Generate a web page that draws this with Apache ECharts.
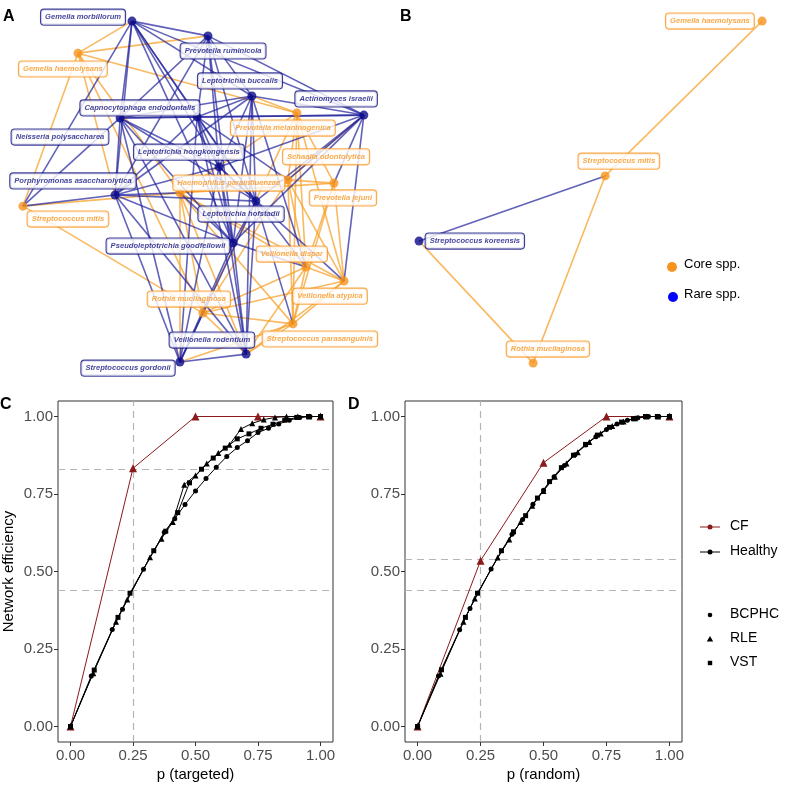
<!DOCTYPE html>
<html><head><meta charset="utf-8">
<script src="https://cdn.jsdelivr.net/npm/echarts@6/dist/echarts.min.js"></script>
<style>html,body{margin:0;padding:0;background:#fff}#c{width:787px;height:790px}</style>
</head><body><div id="c"></div><script>
// ---------- Panel A: network (layout coordinates 0-100) ----------
const netA_names = ["Gemella morbillorum","Prevotella ruminicola","Gemella haemolysans","Leptotrichia buccalis","Actinomyces israelii","Neisseria polysaccharea","Capnocytophaga endodontalis","Prevotella melaninogenica","Leptotrichia hongkongensis","Schaalia odontolytica","Prevotella jejuni","Porphyromonas asaccharolytica","Haemophilus parainfluenzae","Streptococcus mitis","Leptotrichia hofstadii","Pseudoleptotrichia goodfellowii","Veillonella dispar","Veillonella atypica","Rothia mucilaginosa","Streptococcus parasanguinis","Veillonella rodentium","Streptococcus gordonii"];
const netA_type = ["rare","rare","core","rare","rare","rare","rare","core","rare","core","core","rare","core","core","rare","rare","core","core","core","core","rare","rare"];
const netA_x = [32.5,53.6,17.5,65.8,96.9,29.2,50.6,78.3,56.7,75.8,88.6,27.8,45.8,2.2,66.9,60.6,80.8,91.4,52.2,77.2,64.2,45.8];
const netA_y = [1.7,5.8,10.6,22.5,27.8,28.6,28.3,27.2,42.2,45.8,46.7,50.0,49.4,53.1,51.7,63.3,70.0,73.9,82.8,85.8,94.2,96.4];
const netA_labelX = [18.9,57.8,13.3,62.5,89.2,12.5,34.7,74.4,48.3,86.4,91.1,16.1,59.4,14.7,62.8,42.5,76.9,87.5,48.3,84.7,54.7,31.4];
const netA_labelY = [0.6,10.0,15.0,18.3,23.3,33.9,25.8,31.4,38.1,39.4,50.8,46.1,46.7,56.7,55.3,64.2,66.4,78.1,78.9,90.0,90.3,98.1];
const netA_edgesBlue = [[0,1],[0,3],[0,4],[0,5],[0,6],[0,8],[0,11],[0,14],[0,15],[0,13],
 [1,3],[1,4],[1,5],[1,6],[1,8],[1,14],[1,15],[1,11],
 [3,4],[3,5],[3,6],[3,8],[3,11],[3,14],[3,15],[3,20],[3,16],
 [4,6],[4,8],[4,14],[4,15],[4,5],[4,17],[4,10],[4,9],
 [5,6],[5,8],[5,11],[5,14],[5,15],[5,20],[5,21],[5,13],
 [6,8],[6,11],[6,14],[6,15],[6,20],[6,21],[6,9],
 [8,11],[8,14],[8,15],[8,20],[8,21],[8,17],
 [11,14],[11,15],[11,20],[11,21],[11,13],[11,12],
 [14,15],[14,20],[14,21],[14,16],[14,19],
 [15,20],[15,21],[15,16],[15,12],[20,21],[21,18]];
const netA_edgesOrange = [[2,0],[2,1],[2,13],[2,7],[2,12],[2,11],[2,18],
 [7,9],[7,10],[7,12],[7,16],[7,17],[7,19],[7,18],
 [9,10],[9,12],[9,16],[9,17],[9,18],[9,19],
 [10,16],[10,17],[10,19],[10,12],
 [12,16],[12,17],[12,18],[12,19],[12,13],[12,21],[12,20],
 [16,17],[16,18],[16,19],[16,20],
 [17,18],[17,19],[17,20],
 [18,19],[18,20],[13,18],[19,20],[19,21],[9,4],[7,3]];

// ---------- Panel B: network ----------
const netB_names = ["Gemella haemolysans","Streptococcus mitis","Streptococcus koreensis","Rothia mucilaginosa"];
const netB_type = ["core","core","rare","core"];
const netB_x = [99.2,55.6,3.9,35.6];
const netB_y = [1.7,44.7,62.8,96.7];
const netB_labelX = [84.7,59.4,19.4,39.7];
const netB_labelY = [1.7,40.6,62.8,92.8];
const netB_edgesBlue = [[1,2]];
const netB_edgesOrange = [[0,1],[2,3],[1,3]];

// ---------- Panel C: targeted ----------
const pC_CF_x = [0,0.25,0.5,0.75,1];
const pC_CF_y = [0,0.833,1,1,1];
const pC_BCPHC_x = [0,0.083,0.167,0.208,0.292,0.375,0.417,0.458,0.5,0.542,0.583,0.625,0.667,0.708,0.75,0.792,0.833,0.875,0.917,0.958,1];
const pC_BCPHC_y = [0,0.163,0.313,0.378,0.507,0.627,0.67,0.716,0.76,0.80,0.836,0.871,0.90,0.922,0.948,0.962,0.976,0.988,0.997,1,1];
const pC_RLE_x = [0,0.091,0.182,0.227,0.318,0.364,0.409,0.455,0.5,0.545,0.591,0.636,0.682,0.727,0.773,0.818,0.864,0.909,0.955,1];
const pC_RLE_y = [0,0.172,0.338,0.41,0.546,0.606,0.66,0.78,0.81,0.848,0.882,0.909,0.96,0.978,0.99,0.997,1,1,1,1];
const pC_VST_x = [0,0.095,0.19,0.238,0.333,0.381,0.429,0.476,0.524,0.571,0.619,0.667,0.714,0.762,0.81,0.857,0.905,0.952,1];
const pC_VST_y = [0,0.182,0.352,0.43,0.567,0.63,0.69,0.786,0.83,0.866,0.898,0.928,0.944,0.962,0.975,0.988,0.997,1,1];
const refC_v = [0.25];
const refC_h = [0.835,0.44];

// ---------- Panel D: random ----------
const pD_CF_x = [0,0.25,0.5,0.75,1];
const pD_CF_y = [0,0.535,0.851,1,1];
const pD_BCPHC_x = [0,0.083,0.167,0.208,0.292,0.375,0.417,0.458,0.5,0.542,0.583,0.625,0.667,0.708,0.75,0.792,0.833,0.875,0.917,0.958,1];
const pD_BCPHC_y = [0,0.163,0.312,0.381,0.508,0.62,0.668,0.717,0.762,0.806,0.842,0.877,0.908,0.935,0.958,0.976,0.988,0.996,1,1,1];
const pD_RLE_x = [0,0.091,0.182,0.227,0.318,0.364,0.409,0.455,0.5,0.545,0.591,0.636,0.682,0.727,0.773,0.818,0.864,0.909,0.955,1];
const pD_RLE_y = [0,0.17,0.338,0.413,0.545,0.603,0.66,0.712,0.76,0.806,0.848,0.885,0.918,0.945,0.969,0.984,0.994,1,1,1];
const pD_VST_x = [0,0.095,0.19,0.238,0.333,0.381,0.429,0.476,0.524,0.571,0.619,0.667,0.714,0.762,0.81,0.857,0.905,0.952,1];
const pD_VST_y = [0,0.183,0.352,0.43,0.567,0.628,0.68,0.737,0.79,0.835,0.875,0.91,0.94,0.965,0.982,0.993,1,1,1];
const refD_v = [0.25];
const refD_h = [0.54,0.44];

const tickValues = [0,0.25,0.5,0.75,1];

// ---------- styles ----------
const ORANGE = '#F7941D', NAVY = '#0A0A8A', NAVY_TXT = '#101080';
const EDGE_BLUE = 'rgba(38,38,158,0.72)', EDGE_ORANGE = 'rgba(247,158,36,0.72)';
const CF_RED = '#8B1A1A';
const FONT = 'Liberation Sans, Arial, Helvetica, sans-serif';

function netSeries(idx, names, type, xs, ys, lx, ly, eb, eo) {
  const mk = (edges, col) => edges.map(e => ({coords: [[xs[e[0]], ys[e[0]]], [xs[e[1]], ys[e[1]]]], lineStyle: {color: col}}));
  return [
    {type: 'lines', coordinateSystem: 'cartesian2d', xAxisIndex: idx, yAxisIndex: idx, z: 1,
     data: mk(eo, EDGE_ORANGE), lineStyle: {width: 1.6, opacity: 1}, silent: true, animation: false},
    {type: 'lines', coordinateSystem: 'cartesian2d', xAxisIndex: idx, yAxisIndex: idx, z: 1,
     data: mk(eb, EDGE_BLUE), lineStyle: {width: 1.6, opacity: 1}, silent: true, animation: false},
    {type: 'scatter', xAxisIndex: idx, yAxisIndex: idx, z: 3, symbolSize: 9, animation: false,
     data: names.map((n, i) => ({name: n, value: [xs[i], ys[i]], itemStyle: {color: type[i] === 'core' ? ORANGE : NAVY}}))},
    {type: 'scatter', xAxisIndex: idx, yAxisIndex: idx, z: 5, symbolSize: 0, animation: false,
     data: names.map((n, i) => {
       const c = type[i] === 'core' ? ORANGE : NAVY_TXT;
       return {name: n, value: [lx[i], ly[i]],
         label: {show: true, position: 'inside', formatter: '{b}', color: c, borderColor: c,
           borderWidth: 1.1, borderRadius: 3, backgroundColor: '#fff', padding: [3, 4, 2, 4],
           fontSize: 7.6, fontWeight: 'bold', fontStyle: 'italic', fontFamily: FONT, lineHeight: 10}};
     })}
  ];
}

function curve(name, xs, ys, sym, size, col, xi, z) {
  return {type: 'line', name: name, xAxisIndex: xi, yAxisIndex: xi, z: z, animation: false,
    data: xs.map((x, i) => [x, ys[i]]), symbol: sym, symbolSize: size, showSymbol: true,
    itemStyle: {color: col, borderColor: col, borderWidth: 0}, lineStyle: {color: col, width: 1}};
}
function refSeries(xi, vs, hs) {
  return {type: 'line', xAxisIndex: xi, yAxisIndex: xi, z: 1, data: [], silent: true, animation: false,
    markLine: {silent: true, z: 1, symbol: ['none', 'none'], label: {show: false}, animation: false,
      lineStyle: {color: '#b5b5b5', type: [7, 5], width: 1.2},
      data: vs.map(v => ({xAxis: v})).concat(hs.map(h => ({yAxis: h})))}};
}
const fmt = v => v.toFixed(2);
function plotX(gi, name) {
  return {gridIndex: gi, type: 'value', min: -0.05, max: 1.05, name: name, nameLocation: 'middle', nameGap: 25,
    nameTextStyle: {fontSize: 15, color: '#000', fontFamily: FONT},
    axisLine: {show: false, onZero: false}, splitLine: {show: false},
    axisTick: {show: true, length: 4, lineStyle: {color: '#333'}, customValues: tickValues},
    axisLabel: {customValues: tickValues, formatter: fmt, fontSize: 15, color: '#4d4d4d', margin: 6, fontFamily: FONT}};
}
function plotY(gi, name) {
  return {gridIndex: gi, type: 'value', min: -0.05, max: 1.05, name: name, nameLocation: 'middle', nameGap: 42,
    nameTextStyle: {fontSize: 15, color: '#000', fontFamily: FONT},
    axisLine: {show: false, onZero: false}, splitLine: {show: false},
    axisTick: {show: true, length: 4, lineStyle: {color: '#333'}, customValues: tickValues},
    axisLabel: {customValues: tickValues, formatter: fmt, fontSize: 15, color: '#4d4d4d', margin: 5, fontFamily: FONT}};
}
const hiddenAxis = gi => ({gridIndex: gi, type: 'value', min: 0, max: 100, show: false});
const hiddenAxisY = gi => ({gridIndex: gi, type: 'value', min: 0, max: 100, show: false, inverse: true});

const chart = echarts.init(document.getElementById('c'), null, {renderer: 'canvas'});
const series = []
  .concat(netSeries(0, netA_names, netA_type, netA_x, netA_y, netA_labelX, netA_labelY, netA_edgesBlue, netA_edgesOrange))
  .concat(netSeries(1, netB_names, netB_type, netB_x, netB_y, netB_labelX, netB_labelY, netB_edgesBlue, netB_edgesOrange))
  .concat([
    refSeries(2, refC_v, refC_h),
    curve('CF', pC_CF_x, pC_CF_y, 'triangle', 8, CF_RED, 2, 3),
    curve('BCPHC', pC_BCPHC_x, pC_BCPHC_y, 'circle', 5, '#000', 2, 4),
    curve('RLE', pC_RLE_x, pC_RLE_y, 'triangle', 6, '#000', 2, 4),
    curve('VST', pC_VST_x, pC_VST_y, 'rect', 5, '#000', 2, 4),
    refSeries(3, refD_v, refD_h),
    curve('CF', pD_CF_x, pD_CF_y, 'triangle', 8, CF_RED, 3, 3),
    curve('BCPHC', pD_BCPHC_x, pD_BCPHC_y, 'circle', 5, '#000', 3, 4),
    curve('RLE', pD_RLE_x, pD_RLE_y, 'triangle', 6, '#000', 3, 4),
    curve('VST', pD_VST_x, pD_VST_y, 'rect', 5, '#000', 3, 4)
  ]);

const txt = (x, y, s, size, weight) => ({type: 'text', left: x, top: y, z: 10, silent: true,
  style: {text: s, fill: '#000', font: (weight || 'normal') + ' ' + size + 'px ' + FONT}});

chart.setOption({
  backgroundColor: '#fff',
  animation: false,
  textStyle: {fontFamily: FONT},
  grid: [
    {left: 15, top: 15, width: 360, height: 360, show: false},
    {left: 405, top: 15, width: 360, height: 360, show: false},
    {left: 57, top: 401, width: 276, height: 341, show: true, borderColor: '#333', borderWidth: 1},
    {left: 405, top: 401, width: 277, height: 341, show: true, borderColor: '#333', borderWidth: 1}
  ],
  xAxis: [hiddenAxis(0), hiddenAxis(1), plotX(2, 'p (targeted)'), plotX(3, 'p (random)')],
  yAxis: [hiddenAxisY(0), hiddenAxisY(1), plotY(2, 'Network efficiency'), plotY(3, '')],
  series: series,
  graphic: [
    txt(3, 9, 'A', 16, 'bold'), txt(400, 9, 'B', 16, 'bold'),
    txt(0, 397, 'C', 16, 'bold'), txt(348, 397, 'D', 16, 'bold'),
    // legend B
    {type: 'circle', shape: {cx: 672, cy: 267, r: 5}, style: {fill: ORANGE}, z: 10, silent: true},
    txt(684, 258, 'Core spp.', 13),
    {type: 'circle', shape: {cx: 673, cy: 297, r: 5}, style: {fill: '#0000FF'}, z: 10, silent: true},
    txt(684, 288, 'Rare spp.', 13),
    // legend C/D
    {type: 'line', shape: {x1: 700, y1: 527, x2: 720, y2: 527}, style: {stroke: CF_RED, lineWidth: 1}, z: 10, silent: true},
    {type: 'circle', shape: {cx: 710, cy: 527, r: 2.5}, style: {fill: CF_RED}, z: 10, silent: true},
    txt(730, 519, 'CF', 14),
    {type: 'line', shape: {x1: 700, y1: 552, x2: 720, y2: 552}, style: {stroke: '#000', lineWidth: 1}, z: 10, silent: true},
    {type: 'circle', shape: {cx: 710, cy: 552, r: 2.5}, style: {fill: '#000'}, z: 10, silent: true},
    txt(730, 544, 'Healthy', 14),
    {type: 'circle', shape: {cx: 710, cy: 615, r: 2.3}, style: {fill: '#000'}, z: 10, silent: true},
    txt(730, 607, 'BCPHC', 14),
    {type: 'polygon', shape: {points: [[710, 636], [713.2, 641.5], [706.8, 641.5]]}, style: {fill: '#000'}, z: 10, silent: true},
    txt(730, 631, 'RLE', 14),
    {type: 'rect', shape: {x: 707.8, y: 660.8, width: 4.4, height: 4.4}, style: {fill: '#000'}, z: 10, silent: true},
    txt(730, 655, 'VST', 14)
  ]
});
</script></body></html>
